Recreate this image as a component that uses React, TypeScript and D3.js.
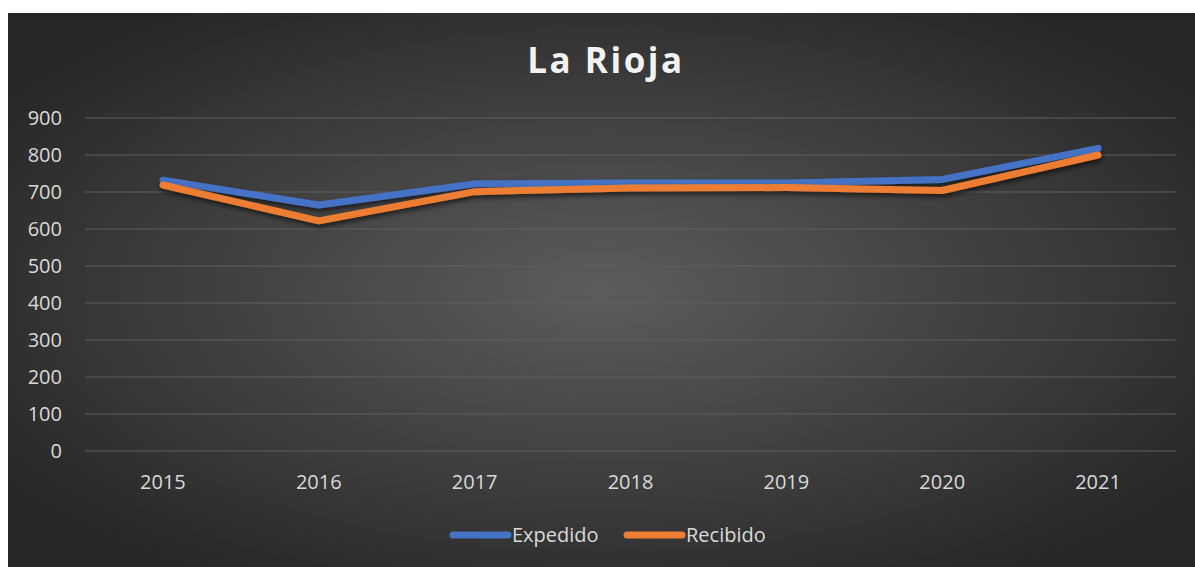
import React from "react";
import * as d3 from "d3";

// chart data
const years = ["2015", "2016", "2017", "2018", "2019", "2020", "2021"];
const expedido = [732, 665, 722, 724, 724, 734, 818];
const recibido = [719, 622, 701, 711, 712, 704, 800];
const yTicks = [0, 100, 200, 300, 400, 500, 600, 700, 800, 900];

const series = [
    { name: "Expedido", values: expedido, color: "#4472C4" },
    { name: "Recibido", values: recibido, color: "#ED7D31" },
];

// layout
const W = 1195;
const H = 567;
const frame = { x: 8, y: 13, w: 1187, h: 554 };
const plot = { left: 85, right: 1176, top: 118, bottom: 451 };

const font = "'Open Sans', 'Noto Sans', sans-serif";

export default function App() {
    const x = d3.scalePoint<string>()
        .domain(years)
        .range([plot.left, plot.right])
        .padding(0.5);

    const y = d3.scaleLinear()
        .domain([0, 900])
        .range([plot.bottom, plot.top]);

    const line = d3.line<number>()
        .x((_, i) => x(years[i]) as number)
        .y(d => y(d));

    return (
        <svg width={W} height={H} style={{ position: "absolute", left: 0, top: 0 }}>
            <defs>
                <radialGradient id="bg" cx="50%" cy="50%" r="62%">
                    <stop offset="0%" stopColor="#5c5c5c" />
                    <stop offset="100%" stopColor="#262626" />
                </radialGradient>
                <filter id="shadow" x="-5%" y="-50%" width="110%" height="200%">
                    <feDropShadow dx="1" dy="3" stdDeviation="2.5" floodColor="#000" floodOpacity="0.6" />
                </filter>
            </defs>
            <rect x={frame.x} y={frame.y} width={frame.w} height={frame.h} fill="url(#bg)" />

            {/* title */}
            <text x={606} y={73} textAnchor="middle" fill="#f2f2f2" fontFamily={font}
                fontWeight="bold" fontSize={35} letterSpacing={2.5}>La Rioja</text>

            {/* grid and y labels */}
            {yTicks.map(t => (
                <g key={t}>
                    <line x1={plot.left} x2={plot.right} y1={y(t)} y2={y(t)} stroke="#5f5f5f" strokeWidth={1} />
                    <text x={62} y={y(t)} dy="0.35em" textAnchor="end" fill="#d9d9d9"
                        fontFamily={font} fontSize={20}>{t}</text>
                </g>
            ))}

            {/* x labels */}
            {years.map(yr => (
                <text key={yr} x={x(yr)} y={482} dy="0.35em" textAnchor="middle" fill="#d9d9d9"
                    fontFamily={font} fontSize={20}>{yr}</text>
            ))}

            {/* lines */}
            {series.map(s => (
                <path key={s.name} d={line(s.values) ?? ""} fill="none" stroke={s.color}
                    strokeWidth={7} strokeLinecap="round" strokeLinejoin="round" filter="url(#shadow)" />
            ))}

            {/* legend */}
            {series.map((s, i) => {
                const lx = 453 + i * 174;
                return (
                    <g key={s.name}>
                        <line x1={lx} x2={lx + 55} y1={535} y2={535} stroke={s.color}
                            strokeWidth={7} strokeLinecap="round" />
                        <text x={lx + 59} y={535} dy="0.35em" fill="#d9d9d9"
                            fontFamily={font} fontSize={20}>{s.name}</text>
                    </g>
                );
            })}
        </svg>
    );
}
